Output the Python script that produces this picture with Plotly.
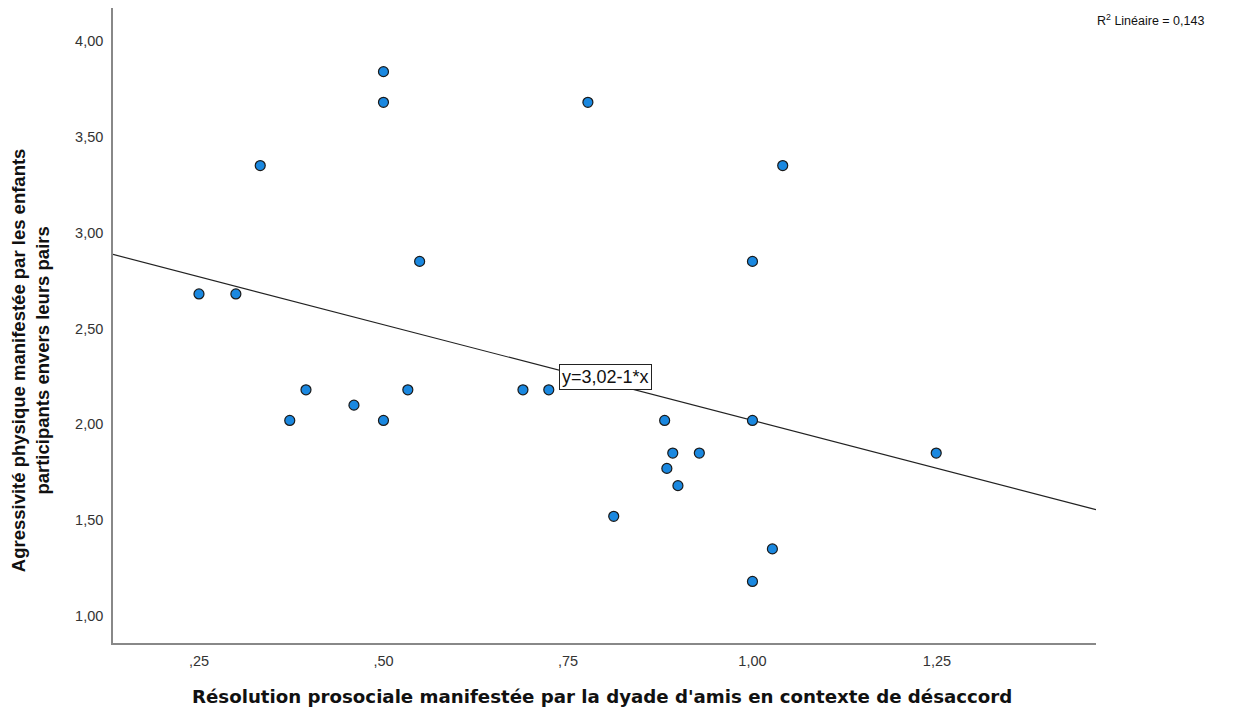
import plotly.graph_objects as go

# Résolution prosociale (x) et agressivité physique (y) par participant
resolution = [0.25, 0.30, 0.333, 0.373, 0.395, 0.46, 0.50, 0.50, 0.50, 0.533,
              0.549, 0.689, 0.724, 0.777, 0.812, 0.881, 0.884, 0.892, 0.899, 0.928,
              1.00, 1.00, 1.00, 1.027, 1.041, 1.249]
agressivite = [2.68, 2.68, 3.35, 2.02, 2.18, 2.10, 2.02, 3.84, 3.68, 2.18,
               2.85, 2.18, 2.18, 3.68, 1.52, 2.02, 1.77, 1.85, 1.68, 1.85,
               2.85, 2.02, 1.18, 1.35, 3.35, 1.85]

# Droite de régression linéaire
intercept = 3.02
slope = -1.0
r2 = 0.143

x_range = [0.1335, 1.4655]
y_range = [0.859, 4.172]

x_ticks = [0.25, 0.50, 0.75, 1.00, 1.25]
x_ticktext = [",25", ",50", ",75", "1,00", "1,25"]
y_ticks = [1.0, 1.5, 2.0, 2.5, 3.0, 3.5, 4.0]
y_ticktext = ["1,00", "1,50", "2,00", "2,50", "3,00", "3,50", "4,00"]

fig = go.Figure()

fig.add_trace(go.Scatter(
    x=x_range,
    y=[intercept + slope * v for v in x_range],
    mode="lines",
    line=dict(color="#222222", width=1.2),
    hoverinfo="skip",
    showlegend=False,
))

fig.add_trace(go.Scatter(
    x=resolution,
    y=agressivite,
    mode="markers",
    marker=dict(size=10, color="#1a88e0", line=dict(color="#1a1a1a", width=1.2)),
    showlegend=False,
))

tick_font = dict(family="Liberation Sans, Arial, sans-serif", size=14.5, color="#333333")

fig.update_layout(
    width=1245,
    height=715,
    margin=dict(l=113, r=149, t=8, b=72),
    paper_bgcolor="white",
    plot_bgcolor="white",
    xaxis=dict(
        range=x_range,
        tickvals=x_ticks,
        ticktext=x_ticktext,
        showgrid=False,
        zeroline=False,
        showline=True,
        linecolor="#888888",
        linewidth=1.5,
        ticks="outside",
        ticklen=4,
        tickcolor="rgba(0,0,0,0)",
        tickfont=tick_font,
    ),
    yaxis=dict(
        range=y_range,
        tickvals=y_ticks,
        ticktext=y_ticktext,
        showgrid=False,
        zeroline=False,
        showline=True,
        linecolor="#888888",
        linewidth=1.5,
        ticks="outside",
        ticklen=5,
        tickcolor="rgba(0,0,0,0)",
        tickfont=tick_font,
    ),
    annotations=[
        dict(
            text="<b>Résolution prosociale manifestée par la dyade d'amis en contexte de désaccord</b>",
            xref="paper", yref="paper", x=0.4975, y=-0.085,
            xanchor="center", yanchor="middle", showarrow=False,
            font=dict(family="DejaVu Sans, Verdana, sans-serif", size=18.2, color="#111111"),
        ),
        dict(
            text="<b>Agressivité physique manifestée par les enfants<br>participants envers leurs pairs</b>",
            xref="paper", yref="paper", x=-0.084, y=0.446,
            xanchor="center", yanchor="middle", showarrow=False, textangle=-90,
            font=dict(family="Liberation Sans, Arial, sans-serif", size=18.5, color="#111111"),
        ),
        dict(
            text="R<sup>2</sup> Linéaire = " + f"{r2:.3f}".replace(".", ","),
            xref="paper", yref="paper", x=1.112, y=0.981,
            xanchor="right", yanchor="middle", showarrow=False,
            font=dict(family="Liberation Sans, Arial, sans-serif", size=12.5, color="#111111"),
        ),
        dict(
            text=f"y={intercept:.2f}".replace(".", ",") + f"{slope:.0f}*x",
            xref="x", yref="y", x=0.738, y=2.316,
            xanchor="left", yanchor="top", showarrow=False,
            bgcolor="white", bordercolor="#222222", borderwidth=1, borderpad=2,
            font=dict(family="Liberation Sans, Arial, sans-serif", size=18, color="#111111"),
        ),
    ],
)

fig.write_html("out.html")
